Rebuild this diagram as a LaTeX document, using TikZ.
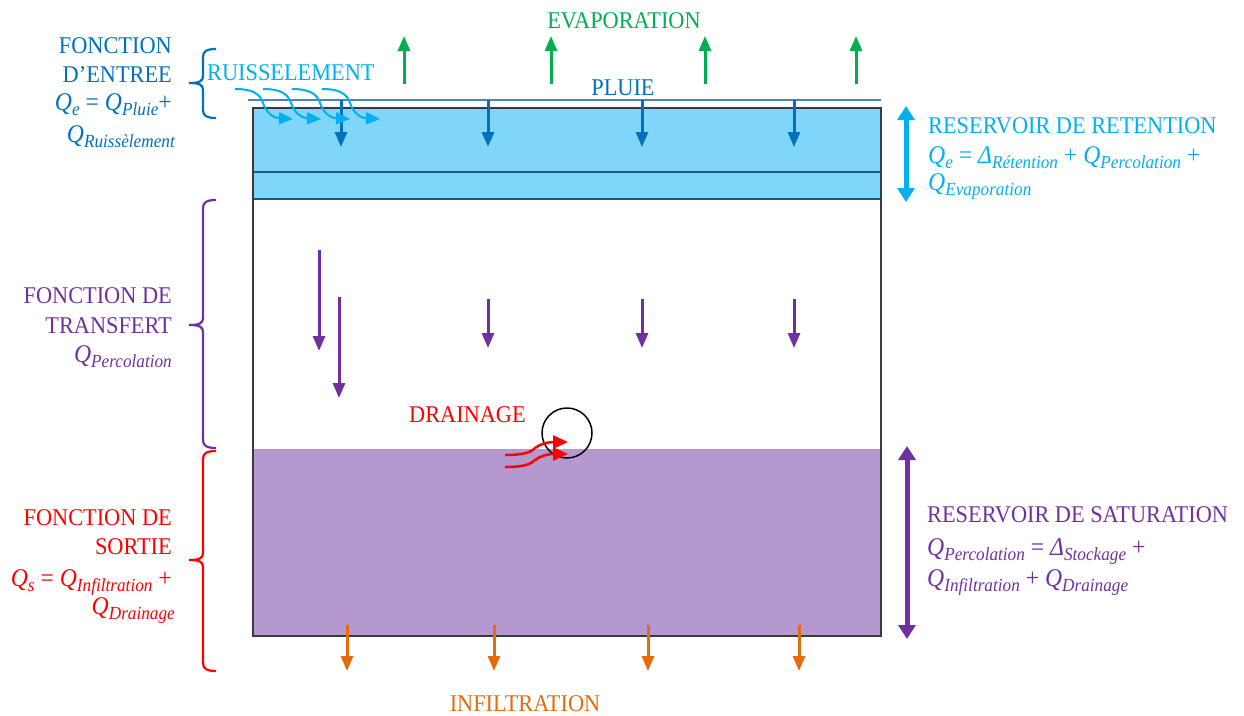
\documentclass[tikz,border=0pt]{standalone}
\usepackage{fontspec}
\setmainfont{Liberation Serif}[FakeStretch=0.93]
\usetikzlibrary{arrows.meta}
\definecolor{dblue}{HTML}{0070C0}
\definecolor{lblue}{HTML}{00B0F0}
\definecolor{bfill}{HTML}{80D6F8}
\definecolor{purp}{HTML}{7030A0}
\definecolor{pfill}{HTML}{B598D0}
\definecolor{orng}{HTML}{E46C0A}
\definecolor{grn}{HTML}{00B050}
\definecolor{pluieline}{HTML}{4F81BD}
\definecolor{boxline}{HTML}{3A3A3A}
\definecolor{sepline}{HTML}{1F5A78}
\newcommand\lsub[1]{\raisebox{-5pt}{\fontsize{18.5}{18.5}\selectfont\itshape #1}}
\newcommand\Qsym[1]{\textit{Q}\lsub{#1}}
\newcommand\mybrace[4]{%
  \draw[#4,line width=2.2pt] (216,#1) .. controls (207,#1) and (203,#1+2) .. (203,#1+8)
    -- (203,#2-7) .. controls (203,#2-2) and (200,#2) .. (189,#2)
    .. controls (200,#2) and (203,#2+2) .. (203,#2+7)
    -- (203,#3-8) .. controls (203,#3-2) and (207,#3) .. (216,#3);}
\begin{document}
\begin{tikzpicture}[x=1pt,y=-1pt,
  txt/.style={font=\fontsize{24}{28}\selectfont, inner sep=0pt},
  txf/.style={font=\fontsize{25.5}{30}\selectfont, inner sep=0pt},
  arr/.style={line width=3pt, -{Triangle[width=12pt,length=15pt]}},
  dbl/.style={line width=5pt, {Triangle[width=17pt,length=14pt]}-{Triangle[width=17pt,length=14pt]}},
  curvy/.style={lblue, line width=2pt, -{Triangle[width=12pt,length=14pt]}},
  drain/.style={red, line width=2.5pt, -{Triangle[width=13pt,length=15pt]}}]
\useasboundingbox (0,0) rectangle (1244,715);

% reservoirs
\fill[bfill] (253,108) rectangle (881,199);
\fill[pfill] (253,449) rectangle (881,636);
\draw[sepline, line width=1.5pt] (253,172) -- (881,172);
\draw[sepline, line width=1.5pt] (253,199) -- (881,199);
\draw[boxline, line width=1.8pt] (253,108) rectangle (881,636);
\draw[pluieline, line width=1.5pt] (248,100) -- (881,100);

% rain arrows
\foreach \x in {341,488,642,794}
  \draw[arr, dblue] (\x,100) -- (\x,147);
% evaporation arrows
\foreach \x in {404,551,705,856}
  \draw[arr, grn] (\x,84) -- (\x,36);
% percolation arrows
\draw[arr, purp] (319,250) -- (319,351);
\draw[arr, purp] (339,297) -- (339,398);
\foreach \x in {488,642,794}
  \draw[arr, purp] (\x,299) -- (\x,348);
% infiltration arrows
\foreach \x in {347,494,648,799}
  \draw[arr, orng] (\x,625) -- (\x,671);

% runoff arrows
\foreach \x in {235,263,292,322}
  \draw[curvy] (\x,89) .. controls (\x+18,89) and (\x+25,94) .. (\x+28,103)
     .. controls (\x+31,112) and (\x+38,118) .. (\x+58,119);

% drainage
\node[draw=black, line width=1.5pt, circle, minimum size=50pt, inner sep=0pt] (drainc) at (567,433) {};
\draw[drain] (505,455) .. controls (522,455) and (530,453) .. (535,448)
   .. controls (540,444) and (548,442) .. (568,442);
\draw[drain] (505,467) .. controls (522,467) and (530,465) .. (535,460)
   .. controls (540,456) and (548,454) .. (568,454);

% double arrows
\draw[dbl, lblue] (906,106) -- (906,202);
\draw[dbl, purp] (907,446) -- (907,639);

% braces
\mybrace{49}{83}{118}{dblue}
\mybrace{200}{325}{448}{purp}
\mybrace{451}{560}{671}{red}

% texts
\node[txt, grn, anchor=base] (evap) at (624,28) {EVAPORATION};
\node[txt, dblue, anchor=base] (pluie) at (623,95) {PLUIE};
\node[txt, lblue, anchor=base west] (ruis) at (207,80) {RUISSELEMENT};
\node[txt, red, anchor=base west] (drainage) at (409,422) {DRAINAGE};
\node[txt, orng, anchor=base] (infil) at (525,711) {INFILTRATION};

\node[txt, dblue, anchor=base east] (e1) at (172,53) {FONCTION};
\node[txt, dblue, anchor=base east] (e2) at (172,82) {D’ENTREE};
\node[txf, dblue, anchor=base east] (e3) at (172,110) {\Qsym{e} = \Qsym{Pluie}+};
\node[txf, dblue, anchor=base east] (e4) at (175,142) {\Qsym{Ruissèlement}};

\node[txt, purp, anchor=base east] (t1) at (172,303) {FONCTION DE};
\node[txt, purp, anchor=base east] (t2) at (172,333) {TRANSFERT};
\node[txf, purp, anchor=base east] (t3) at (172,362) {\Qsym{Percolation}};

\node[txt, red, anchor=base east] (s1) at (172,525) {FONCTION DE};
\node[txt, red, anchor=base east] (s2) at (172,554) {SORTIE};
\node[txf, red, anchor=base east] (s3) at (172,586) {\Qsym{s} = \Qsym{Infiltration} +};
\node[txf, red, anchor=base east] (s4) at (175,614) {\Qsym{Drainage}};

\node[txt, lblue, anchor=base west] (r1) at (928,133) {RESERVOIR DE RETENTION};
\node[txf, lblue, anchor=base west] (r2) at (928,163) {\Qsym{e} = \textit{Δ}\lsub{Rétention} + \Qsym{Percolation} +};
\node[txf, lblue, anchor=base west] (r3) at (928,190) {\Qsym{Evaporation}};

\node[txt, purp, anchor=base west] (p1) at (927,522) {RESERVOIR DE SATURATION};
\node[txf, purp, anchor=base west] (p2) at (927,555) {\Qsym{Percolation} = \textit{Δ}\lsub{Stockage} +};
\node[txf, purp, anchor=base west] (p3) at (927,586) {\Qsym{Infiltration} + \Qsym{Drainage}};
\end{tikzpicture}
\end{document}
